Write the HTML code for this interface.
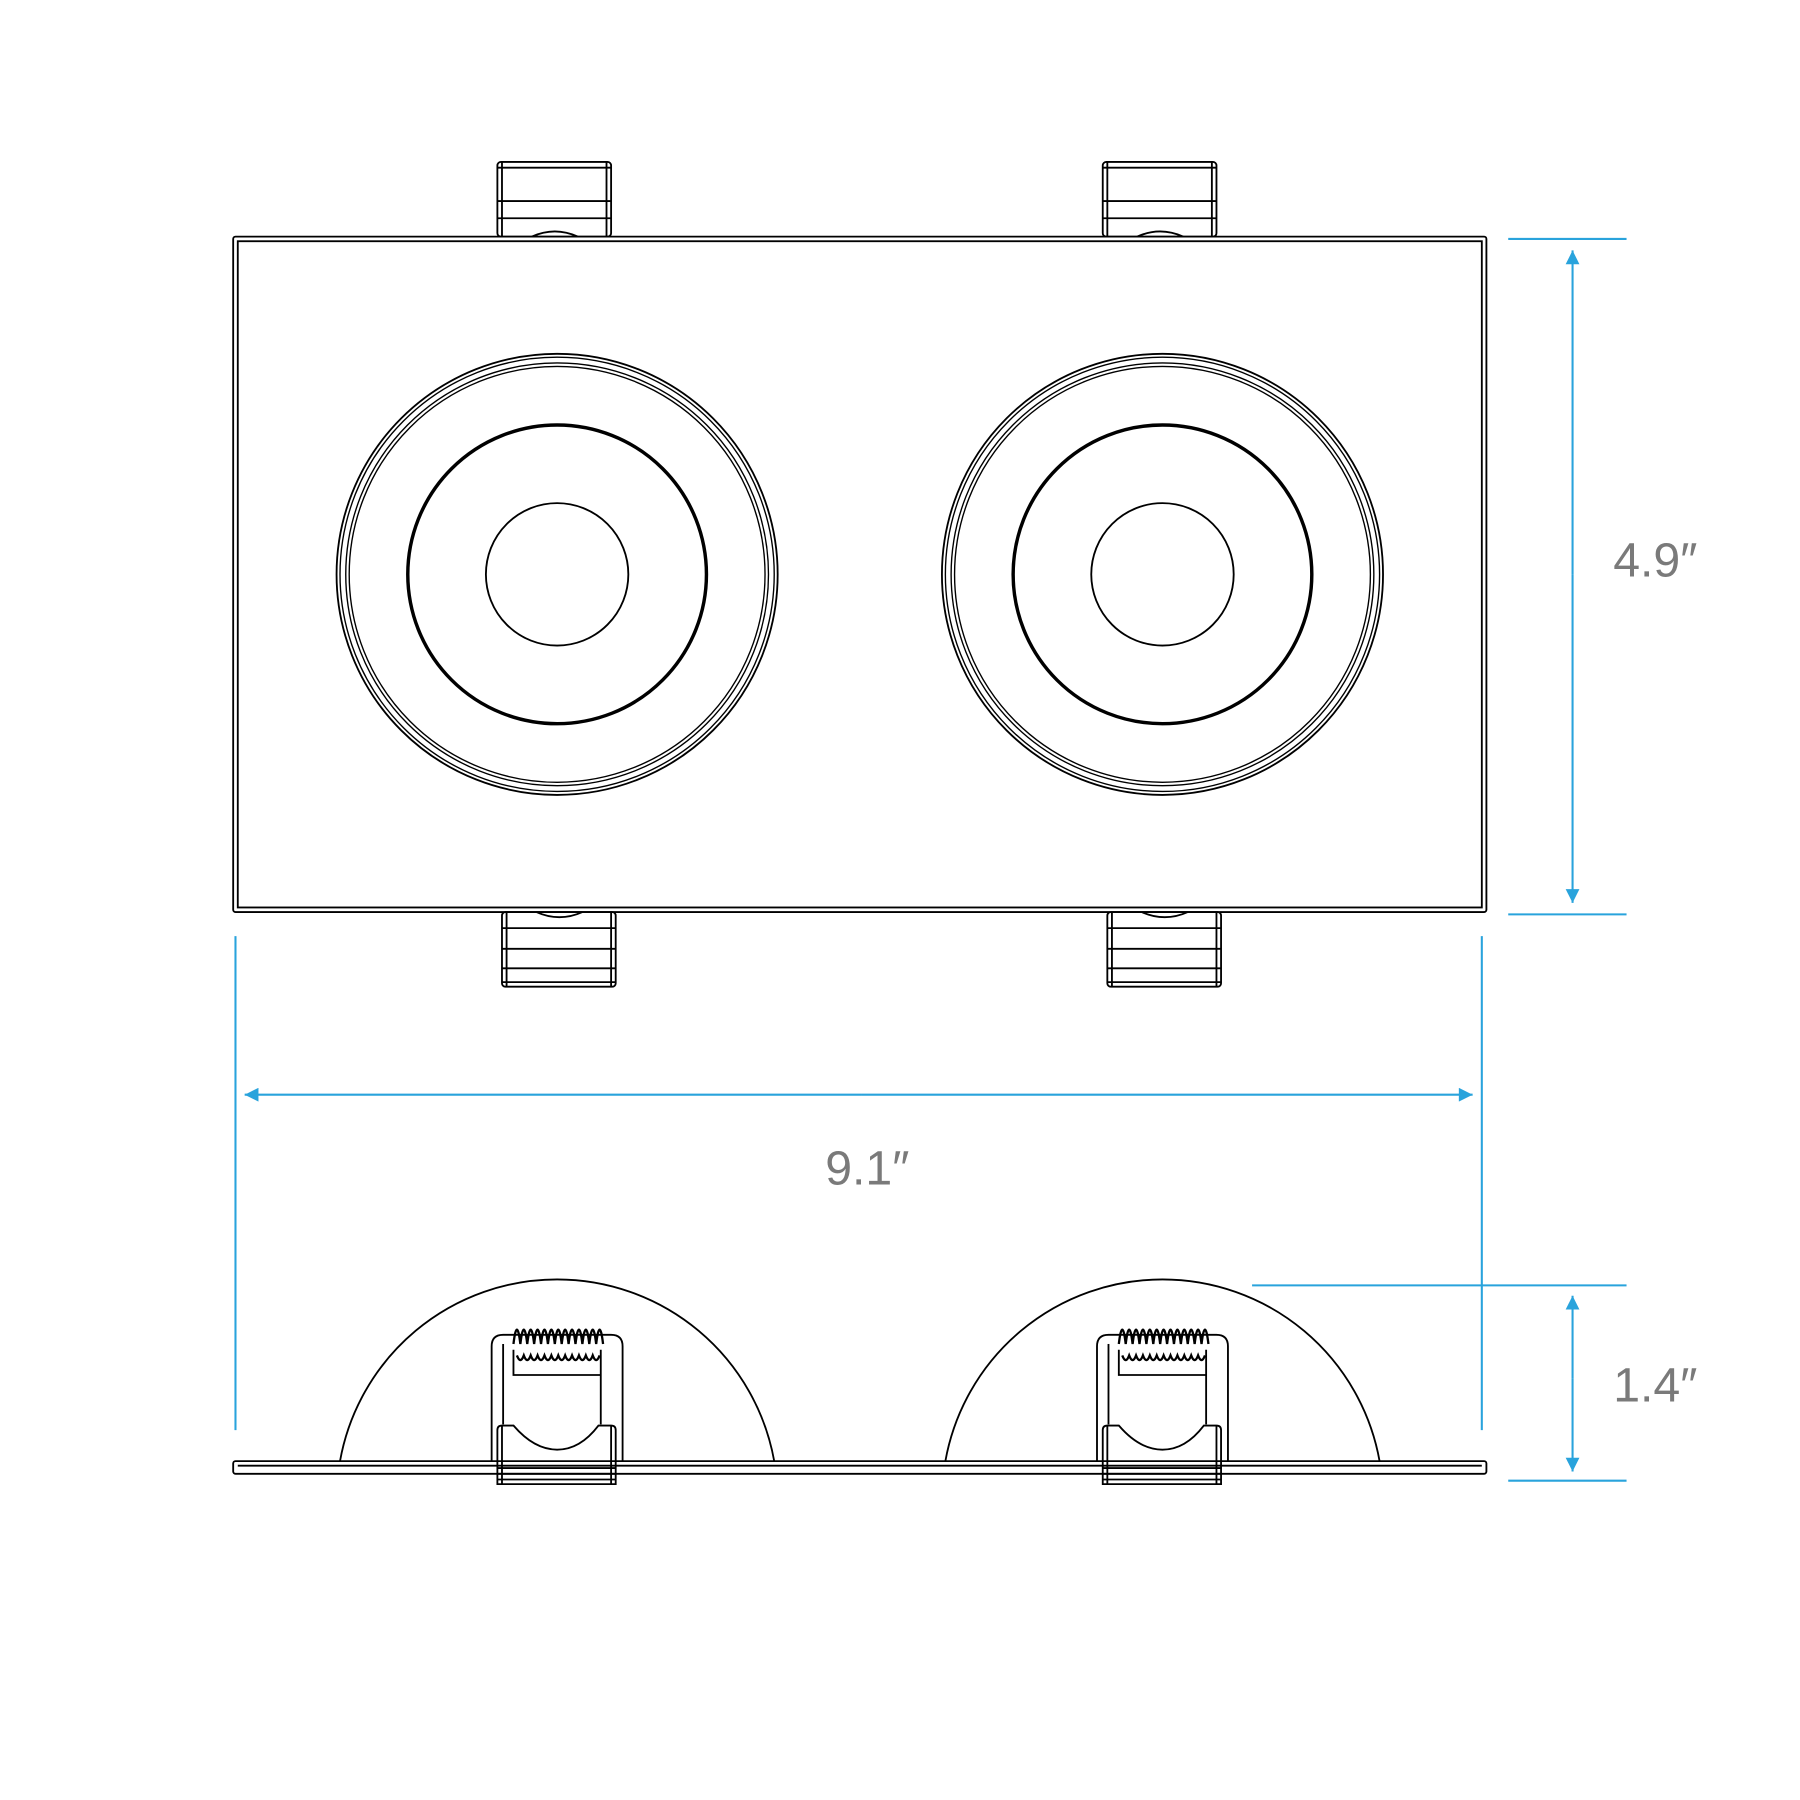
<!DOCTYPE html>
<html><head><style>html,body{margin:0;padding:0;background:#fff}svg{display:block}</style></head>
<body>
<svg width="1800" height="1800" viewBox="0 0 1567 1567" xmlns="http://www.w3.org/2000/svg">
<defs>
<marker id="a" viewBox="0 0 10 10" refX="10" refY="5" markerWidth="22" markerHeight="12" markerUnits="userSpaceOnUse" orient="auto"><path d="M0,0 L10,5 L0,10 z" fill="#29a3dc"/></marker>
</defs>
<g fill="none" stroke="#000" stroke-width="1.6">
<rect x="203" y="206" width="1091" height="588" rx="2"/>
<rect x="207" y="210" width="1083" height="580"/>
<g id="tc">
<rect x="433" y="141" width="99" height="65" rx="3"/>
<line x1="437" y1="141" x2="437" y2="206"/><line x1="528" y1="141" x2="528" y2="206"/>
<line x1="433" y1="146" x2="532" y2="146"/><line x1="433" y1="175" x2="532" y2="175"/><line x1="433" y1="190" x2="532" y2="190"/>
<path d="M463,206 Q483,197 503,206"/>
</g>
<use href="#tc" x="527"/>
<g id="bc">
<rect x="437" y="794" width="99" height="65" rx="3"/>
<line x1="441" y1="794" x2="441" y2="859"/><line x1="532" y1="794" x2="532" y2="859"/>
<line x1="437" y1="808" x2="536" y2="808"/><line x1="437" y1="826" x2="536" y2="826"/><line x1="437" y1="843" x2="536" y2="843"/><line x1="437" y1="855" x2="536" y2="855"/>
<path d="M467,794 Q487,803 507,794"/>
</g>
<use href="#bc" x="527"/>
<g id="cc">
<circle cx="485" cy="500" r="192"/><circle cx="485" cy="500" r="189" stroke-width="1.2"/><circle cx="485" cy="500" r="184" stroke-width="1.2"/><circle cx="485" cy="500" r="181" stroke-width="1.2"/>
<circle cx="485" cy="500" r="130" stroke-width="3"/>
<circle cx="485" cy="500" r="62"/>
</g>
<use href="#cc" x="527"/>
<rect x="203" y="1272" width="1091" height="11" rx="2"/>
<line x1="207" y1="1276" x2="1290" y2="1276"/>
<path d="M296,1272 A192,192 0 0 1 674,1272"/>
<path d="M823,1272 A192,192 0 0 1 1201,1272"/>
<g id="sc">
<path d="M428,1272 V1172 Q428,1162 438,1162 H532 Q542,1162 542,1172 V1272"/>
<line x1="438" y1="1170" x2="438" y2="1240"/><line x1="523" y1="1175" x2="523" y2="1240"/>
<path d="M447,1175 V1197 H523"/>
<path d="M447,1170 q3,-25 6,0 q3,-25 6,0 q3,-25 6,0 q3,-25 6,0 q3,-25 6,0 q3,-25 6,0 q3,-25 6,0 q3,-25 6,0 q3,-25 6,0 q3,-25 6,0 q3,-25 6,0 q3,-25 6,0 q3,-25 6,0" stroke-width="2"/>
<path d="M450,1180 q3,8 6,0 q3,8 6,0 q3,8 6,0 q3,8 6,0 q3,8 6,0 q3,8 6,0 q3,8 6,0 q3,8 6,0 q3,8 6,0 q3,8 6,0 q3,8 6,0 q3,8 6,0" stroke-width="2"/>
<path d="M433,1292 V1245 Q433,1241 437,1241 H447 Q465,1262 485,1262 Q505,1262 521,1241 H532 Q536,1241 536,1245 V1292 Z"/>
<line x1="437" y1="1241" x2="437" y2="1292"/><line x1="532" y1="1241" x2="532" y2="1292"/>
<line x1="433" y1="1278" x2="536" y2="1278"/><line x1="433" y1="1283" x2="536" y2="1283"/><line x1="433" y1="1288" x2="536" y2="1288"/>
</g>
<use href="#sc" x="527"/>
</g>
<g stroke="#29a3dc" stroke-width="1.8" fill="none">
<line x1="1313" y1="208" x2="1416" y2="208"/><line x1="1313" y1="796" x2="1416" y2="796"/>
<line x1="1369" y1="500" x2="1369" y2="218" marker-end="url(#a)"/><line x1="1369" y1="500" x2="1369" y2="786" marker-end="url(#a)"/>
<line x1="205" y1="815" x2="205" y2="1245"/><line x1="1290" y1="815" x2="1290" y2="1245"/>
<line x1="750" y1="953" x2="213" y2="953" marker-end="url(#a)"/><line x1="750" y1="953" x2="1282" y2="953" marker-end="url(#a)"/>
<line x1="1090" y1="1119" x2="1416" y2="1119"/><line x1="1313" y1="1289" x2="1416" y2="1289"/>
<line x1="1369" y1="1200" x2="1369" y2="1128" marker-end="url(#a)"/><line x1="1369" y1="1200" x2="1369" y2="1281" marker-end="url(#a)"/>
</g>
<g font-family="Liberation Sans, sans-serif" font-size="42" fill="#7a7a7a" text-anchor="middle">
<text x="1441" y="502">4.9″</text>
<text x="755" y="1031">9.1″</text>
<text x="1441" y="1220">1.4″</text>
</g>
</svg>
</body></html>
